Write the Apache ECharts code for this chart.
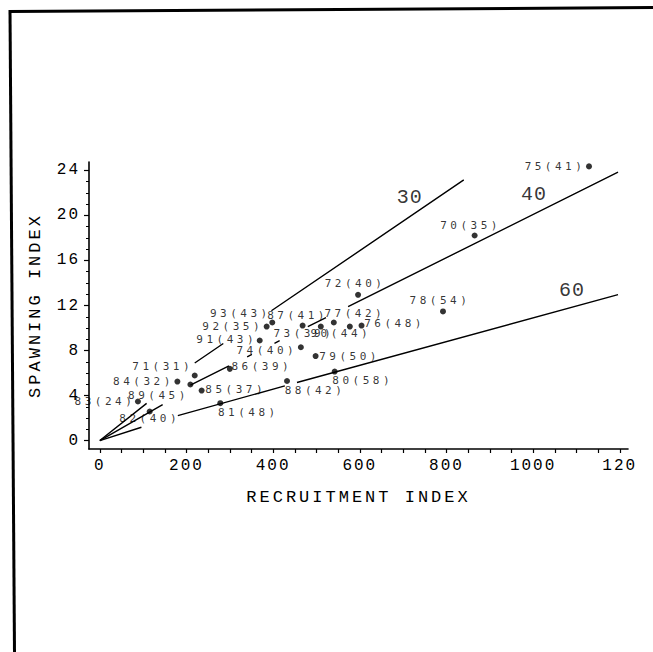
<!DOCTYPE html>
<html>
<head>
<meta charset="utf-8">
<script src="https://cdn.jsdelivr.net/npm/echarts@6/dist/echarts.min.js"></script>
<style>
  html, body { margin: 0; padding: 0; background: #fff; }
  #chart { width: 653px; height: 652px; }
  /* plotter-style wide character spacing */
  #chart text[style*="11px"] { letter-spacing: 3.5px; }
  #chart text[style*="16px"] { letter-spacing: 2px; }
  #chart text[style*="17px"] { letter-spacing: 3px; }
  #chart text[style*="20px"] { letter-spacing: 1px; }
</style>
</head>
<body>
<div id="chart"></div>
<script>
// Year of each survey point and the number printed in brackets beside it
const years = ['75', '70', '72', '78', '76', '77', '90', '73', '87', '93', '92', '91',
               '74', '79', '88', '80', '81', '86', '85', '71', '89', '84', '82', '83'];
const bracketValues = [41, 35, 40, 54, 48, 42, 44, 39, 41, 43, 35, 43,
                       40, 50, 42, 58, 48, 39, 37, 31, 45, 32, 40, 24];
// Recruitment index (x) and spawning index (y) of each point
const recruitment = [1129, 865, 596, 792, 604, 577, 540, 510, 468, 398, 385, 369,
                     464, 498, 432, 542, 278, 300, 235, 219, 209, 179, 115, 88];
const spawning = [24.36, 18.22, 12.95, 11.47, 10.22, 10.13, 10.49, 10.13, 10.22, 10.49, 10.13, 8.89,
                  8.29, 7.51, 5.29, 6.13, 3.32, 6.37, 4.44, 5.78, 4.98, 5.24, 2.58, 3.47];

// Reference lines (recruitment, spawning); null splits a line where a label sits
const line30 = [[0, 0], [108, 3.3], null, [219, 6.89], [285, 8.62], null, [396, 11.53], [840, 23.16]];
const line40 = [[0, 0], [145, 3.2], null, [209, 4.92], [298, 6.63], null, [340, 7.43], [351, 7.65], null,
                [403, 8.64], [415, 8.87], null, [480, 10.12], [522, 10.92], null, [573, 11.9], [1196, 23.84]];
const line60 = [[0, 0], [96, 1.18], null, [180, 2.22], [427, 4.86], null, [455, 5.16], [1196, 12.97]];
const lineTags = [['30', 715, 21.6], ['40', 1002, 21.82], ['60', 1090, 13.29]];

// Axis ticks and labels
const xTickValues = [0, 50, 100, 150, 200, 250, 300, 350, 400, 450, 500, 550, 600,
                     650, 700, 750, 800, 850, 900, 950, 1000, 1050, 1100, 1150, 1200];
const xLabelValues = [0, 200, 400, 600, 800, 1000, 1200];
const xLabelTexts = ['0', '200', '400', '600', '800', '1000', '120'];
const yMinorTicks = [0, 1, 2, 3, 4, 5, 6, 7, 8, 9, 10, 11, 12, 13, 14, 15, 16, 17, 18, 19, 20, 21, 22, 23, 24];
const yLabelValues = [0, 4, 8, 12, 16, 20, 24];

// Where each point's label sits relative to its dot, in pixels
const labelOffsets = [[-34, 0], [-4, -10], [-3, -11], [-3, -11], [33, -2], [5, -13], [7, 11], [-17, 7],
                      [-5, -10], [-32, -9], [-34, 0], [-33, -1], [-34, 3], [34, 0], [28, 9], [28, 9],
                      [28, 9], [32, -2], [34, -1], [-32, -9], [-32, 11], [-34, 0], [0, 7], [-33, 0]];

const FONT = '"Liberation Mono", "DejaVu Sans Mono", monospace';
const LABEL_FONT = '"DejaVu Sans Mono", "Liberation Mono", monospace';
const INK = '#000';

const points = recruitment.map((r, i) => ({
  value: [r, spawning[i]],
  name: years[i] + '(' + bracketValues[i] + ')',
  label: { offset: labelOffsets[i] }
}));

function refLine(data) {
  return {
    type: 'line',
    data: data.map(p => (p === null ? '-' : p)),
    showSymbol: false,
    symbol: 'none',
    connectNulls: false,
    silent: true,
    animation: false,
    lineStyle: { color: INK, width: 1.4 },
    z: 2
  };
}

const chart = echarts.init(document.getElementById('chart'), null, { renderer: 'svg' });

chart.setOption({
  backgroundColor: '#fff',
  animation: false,
  grid: { left: 89, top: 162, width: 539, height: 287, containLabel: false },
  xAxis: {
    type: 'value',
    min: -25,
    max: 1219,
    name: 'RECRUITMENT INDEX',
    nameLocation: 'middle',
    nameGap: 40,
    nameTextStyle: { fontFamily: FONT, fontSize: 17, color: INK, verticalAlign: 'top' },
    axisLine: { show: true, onZero: false, lineStyle: { color: INK, width: 1.6 } },
    axisTick: { show: true, customValues: xTickValues, length: 4, lineStyle: { color: INK, width: 1.2 } },
    axisLabel: {
      customValues: xLabelValues,
      margin: 9,
      fontFamily: FONT,
      fontSize: 16,
      color: INK,
      formatter: v => xLabelTexts[xLabelValues.indexOf(v)]
    },
    splitLine: { show: false }
  },
  yAxis: [{
    type: 'value',
    min: -0.75,
    max: 24.75,
    name: 'SPAWNING INDEX',
    nameLocation: 'middle',
    nameGap: 45,
    nameRotate: 90,
    nameTextStyle: { fontFamily: FONT, fontSize: 17, color: INK },
    axisLine: { show: true, onZero: false, lineStyle: { color: INK, width: 1.6 } },
    axisTick: { show: true, customValues: yLabelValues, length: 5, lineStyle: { color: INK, width: 1.2 } },
    axisLabel: { customValues: yLabelValues, margin: 9, fontFamily: FONT, fontSize: 16, color: INK },
    splitLine: { show: false }
  }, {
    type: 'value',
    min: -0.75,
    max: 24.75,
    position: 'left',
    axisLine: { show: false, onZero: false },
    axisTick: { show: true, customValues: yMinorTicks, length: 3, lineStyle: { color: INK, width: 1 } },
    axisLabel: { show: false },
    splitLine: { show: false }
  }],
  series: [
    refLine(line30),
    refLine(line40),
    refLine(line60),
    {
      type: 'scatter',
      data: points,
      symbol: 'circle',
      symbolSize: 6,
      itemStyle: { color: INK },
      label: {
        show: true,
        position: 'inside',
        formatter: p => p.name,
        color: INK,
        fontFamily: LABEL_FONT,
        fontSize: 11
      },
      z: 3
    },
    {
      type: 'scatter',
      data: lineTags.map(t => ({ value: [t[1], t[2]], name: t[0] })),
      symbolSize: 0,
      label: {
        show: true,
        position: 'inside',
        formatter: p => p.name,
        color: INK,
        fontFamily: FONT,
        fontSize: 20
      },
      z: 3
    }
  ],
  graphic: [
    // page frame along the top and left edges
    { type: 'line', shape: { x1: 9, y1: 11.5, x2: 653, y2: 7.5 }, style: { stroke: INK, lineWidth: 3 } },
    { type: 'line', shape: { x1: 10, y1: 10, x2: 14.5, y2: 652 }, style: { stroke: INK, lineWidth: 3 } }
  ]
});
</script>
</body>
</html>
